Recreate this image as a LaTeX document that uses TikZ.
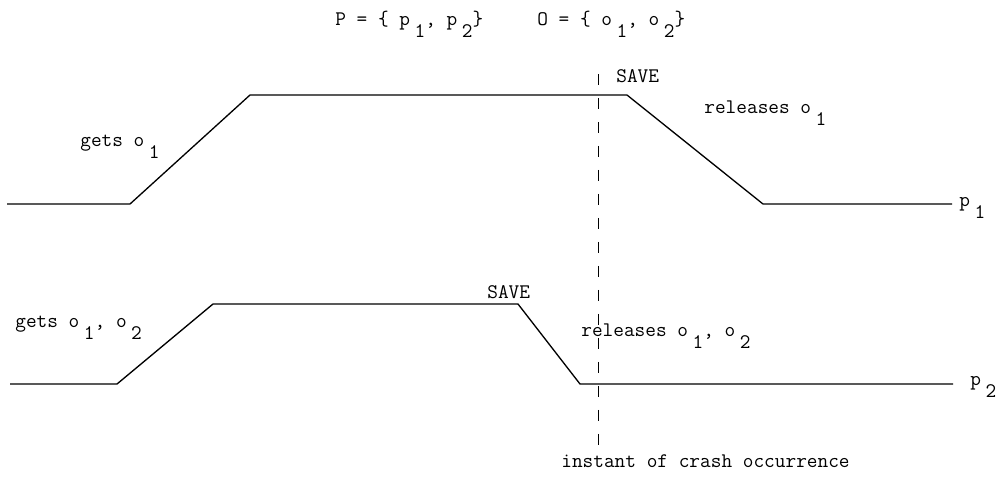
\documentclass[tikz,border=0pt]{standalone}
\usepackage{fontspec}
\newcommand{\lowered}[1]{\kern0.22em\raisebox{-0.6em}{#1}}
\usetikzlibrary{positioning}

\begin{document}
\begin{tikzpicture}[x=0.02cm, y=-0.02cm,
	txt/.style={font=\ttfamily\fontsize{11.8}{14}\selectfont, inner sep=0pt, anchor=base west},
	track/.style={line width=0.75pt, line join=round},
	crash/.style={line width=0.5pt, dash pattern=on 0.22cm off 0.26cm}]

	\useasboundingbox (0,0) rectangle (999,485);

	% process p1
	\coordinate (a0) at (7,204);
	\coordinate (a1) at (130,204);
	\coordinate (a2) at (250,95);
	\coordinate (a3) at (627,95);
	\coordinate (a4) at (763,204);
	\coordinate (a5) at (952,204);

	% process p2
	\coordinate (b0) at (10,384);
	\coordinate (b1) at (117,384);
	\coordinate (b2) at (213,304);
	\coordinate (b3) at (518,304);
	\coordinate (b4) at (580,384);
	\coordinate (b5) at (953,384);

	% crash instant
	\coordinate (c0) at (598,74);
	\coordinate (c1) at (598,446);

	\draw[track] (a0) -- (a1) -- (a2) -- (a3) -- (a4) -- (a5);
	\draw[track] (b0) -- (b1) -- (b2) -- (b3) -- (b4) -- (b5);
	\draw[crash] (c0) -- (c1);

	\node[txt] (setP) at (335,25) {P = \{ p\lowered{1}, p\lowered{2}\}};
	\node[txt] (setO) at (537,25) {O = \{ o\lowered{1}, o\lowered{2}\}};

	\node[txt] (get1) at (80,146) {gets o\lowered{1}};
	\node[txt] (save1) at (616,82) {SAVE};
	\node[txt] (rel1) at (704,113) {releases o\lowered{1}};
	\node[txt] (p1) at (959,206) {p\lowered{1}};

	\node[txt] (get2) at (15,327) {gets o\lowered{1}, o\lowered{2}};
	\node[txt] (save2) at (487,298) {SAVE};
	\node[txt] (rel2) at (581,336) {releases o\lowered{1}, o\lowered{2}};
	\node[txt] (p2) at (970,385) {p\lowered{2}};

	\node[txt] (crashlbl) at (561,467) {instant of crash occurrence};

\end{tikzpicture}
\end{document}
